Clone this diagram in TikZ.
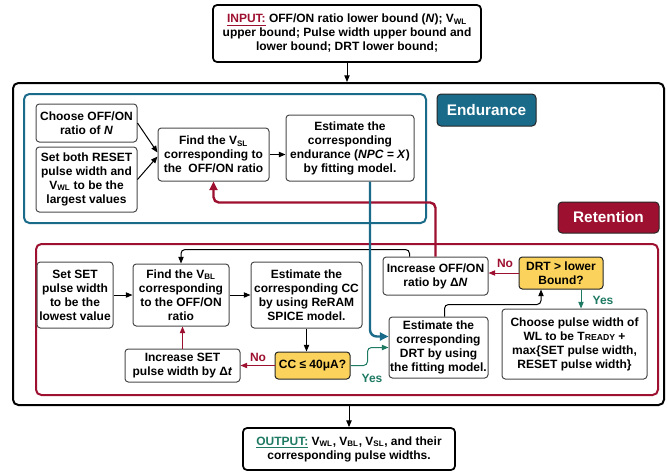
\documentclass[tikz,border=0pt]{standalone}
\usepackage{fontspec}
\setmainfont{Liberation Sans}
\usetikzlibrary{arrows.meta,calc}

\definecolor{endblue}{HTML}{1A6B8A}
\definecolor{retred}{HTML}{9E1030}
\definecolor{yesgreen}{HTML}{1F7A63}
\definecolor{decyellow}{HTML}{FBD35C}
\definecolor{boxgray}{HTML}{4A4A4A}

\newcommand\vsub[1]{\textsubscript{#1}}
% \boxnode{style}{name}{x1}{y1}{x2}{y2}{text}: a node spanning the given corners
\newcommand\boxnode[7]{%
  \pgfmathsetmacro\bxw{(#5-#3)*0.75}%
  \pgfmathsetmacro\bxh{(#6-#4)*0.75}%
  \node[#1, minimum width=\bxw pt, minimum height=\bxh pt] (#2)
    at ({(#3+#5)/2},{(#4+#6)/2}) {#7};}

\tikzset{
  base/.style={font=\fontsize{9}{10.5}\selectfont\bfseries, align=center, inner sep=0pt},
  stepbox/.style={base, draw=boxgray, line width=0.75pt, fill=white, rounded corners=2.5pt},
  decbox/.style={stepbox, fill=decyellow, draw=black!85},
  iobox/.style={base, draw=black, line width=1.3pt, fill=white, rounded corners=3pt},
  frame/.style={line width=1.5pt, rounded corners=4pt, inner sep=0pt},
  tag/.style={font=\fontsize{11.5}{12}\selectfont\bfseries, text=white, draw=black!85,
              line width=0.75pt, rounded corners=3pt, inner sep=0pt},
  arr/.style={-{Triangle[length=5pt,width=4pt]}, line width=0.75pt},
  bigarr/.style={-{Triangle[length=6.5pt,width=6pt]}, line width=1.8pt},
  lbl/.style={font=\fontsize{9}{10}\selectfont\bfseries, inner sep=0pt},
}

\begin{document}
\begin{tikzpicture}[x=0.75pt,y=-0.75pt]
\useasboundingbox (0,0) rectangle (668,472);
\fill[white] (0,0) rectangle (668,472);

% containers
\boxnode{frame, draw=black}{outer}{13}{83}{664}{405}{}
\boxnode{frame, draw=endblue}{endframe}{24}{94}{426}{223}{}
\boxnode{frame, draw=retred}{retframe}{36}{244}{658}{395}{}
\boxnode{tag, fill=endblue}{endtag}{437}{94}{536}{126}{Endurance}
\boxnode{tag, fill=retred}{rettag}{558}{202}{659}{233}{Retention}

% input / output
\boxnode{iobox}{input}{213}{5}{481}{62}
  {\textcolor{retred}{\underline{INPUT:}} OFF/ON ratio lower bound (\textit{N}); V\vsub{WL}\\
   upper bound; Pulse width upper bound and\\lower bound; DRT lower bound;}
\boxnode{iobox}{output}{243}{428}{455}{470}
  {\textcolor{yesgreen}{\underline{OUTPUT:}} V\vsub{WL}, V\vsub{BL}, V\vsub{SL}, and their\\
   corresponding pulse widths.}

% endurance stage
\boxnode{stepbox}{choose}{36}{104}{137}{142}{Choose OFF/ON\\ratio of \textit{N}}
\boxnode{stepbox}{setboth}{36}{147}{137}{212}
  {Set both RESET\\pulse width and\\V\vsub{WL} to be the\\largest values}
\boxnode{stepbox}{findsl}{158}{128}{269}{181}
  {Find the V\vsub{SL}\\corresponding to\\the~ OFF/ON ratio}
\boxnode{stepbox}{estend}{286}{115}{414}{181}
  {Estimate the\\corresponding\\endurance (\textit{NPC = X})\\by fitting model.}

% retention stage
\boxnode{stepbox}{setset}{37}{262}{113}{328}
  {Set SET\\pulse width\\to be the\\lowest value}
\boxnode{stepbox}{findbl}{133}{264}{229}{326}
  {Find the V\vsub{BL}\\corresponding\\to the OFF/ON\\ratio}
\boxnode{stepbox}{estcc}{251}{262}{362}{328}
  {Estimate the\\corresponding CC\\by using ReRAM\\SPICE model.}
\boxnode{stepbox}{incset}{125}{349}{240}{382}
  {Increase SET\\pulse width by Δ\textit{t}}
\boxnode{decbox}{cc}{275}{352}{350}{379}{CC ≤ 40μA?}
\boxnode{stepbox}{incoff}{383}{257}{488}{295}
  {Increase OFF/ON\\ratio by Δ\textit{N}}
\boxnode{decbox}{drt}{519}{257}{603}{289}{DRT > lower\\Bound?}
\boxnode{stepbox}{choosepw}{502}{309}{647}{379}
  {Choose pulse width of\\WL to be T{\fontsize{6.5}{7}\selectfont READY} +\\
   max\{SET pulse width,\\RESET pulse width\}}
\boxnode{stepbox}{estdrt}{389}{317}{488}{378}
  {Estimate the\\corresponding\\DRT by using\\the fitting model.}

% branch labels
\node[lbl, text=retred] (nocc) at (258,357) {No};
\node[lbl, text=yesgreen] (yescc) at (372,378) {Yes};
\node[lbl, text=retred] (nodrt) at (505,263) {No};
\node[lbl, text=yesgreen] (yesdrt) at (603,300) {Yes};

% connectors
\draw[arr] (input.south) -- (input.south |- outer.north);
\draw[arr] (output.north |- outer.south) -- (output.north);

\draw[arr] (choose.east) -- ($(findsl.west)+(0,-2)$);
\draw[arr] (setboth.east) -- ($(findsl.west)+(0,2)$);
\draw[arr] (findsl.east) -- (findsl.east -| estend.west);

\draw[arr] (setset.east) -- (findbl.west);
\draw[arr] (findbl.east) -- (estcc.west);
\draw[arr] (estcc.south) -- (estcc.south |- cc.north);
\draw[arr, retred] (cc.west) -- (incset.east);
\draw[arr, retred] (incset.north) -- (incset.north |- findbl.south);
\draw[arr, yesgreen, rounded corners=3pt] (cc.east) -- ++(17,0) |- (estdrt.west);
\draw[arr, rounded corners=3pt] ($(estdrt.north)+(6,0)$) -- ++(0,-12) -| ($(drt.south)+(-20,0)$);
\draw[arr, retred] (drt.west) -- (drt.west -| incoff.east);
\coordinate (yesstart) at ($(drt.south)+(20,0)$);
\draw[arr, yesgreen] (yesstart) -- (yesstart |- choosepw.north);
\draw[arr, rounded corners=3pt] ($(incoff.north)+(-26,0)$) -- ++(0,-7) -| (findbl.north);

% feedback to the endurance stage and hand-over to retention
\draw[bigarr, retred, rounded corners=4pt] (incoff.north) -- ++(0,-54) -| (findsl.south);
\draw[bigarr, endblue, rounded corners=5pt] ($(estend.south)+(20,0)$) |- ($(estdrt.west)+(0,-11)$);
\end{tikzpicture}
\end{document}
